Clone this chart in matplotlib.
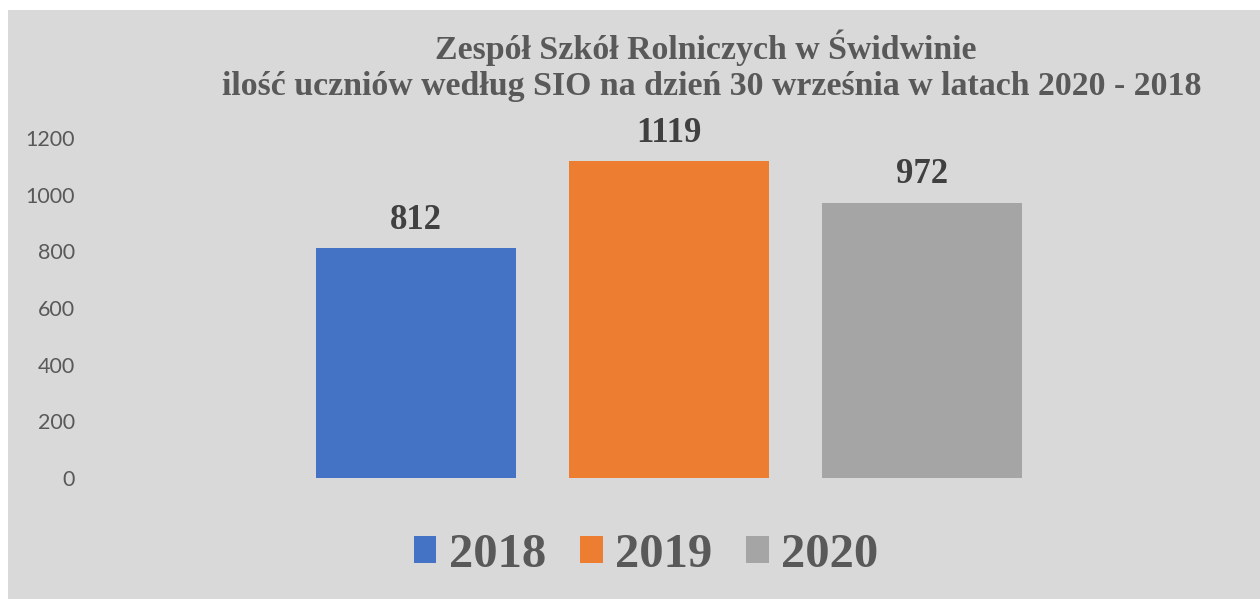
import matplotlib
matplotlib.use("Agg")
import matplotlib.pyplot as plt
from matplotlib.patches import Rectangle
import numpy as np

# dane
years = ['2018', '2019', '2020']
students = [812, 1119, 972]
colors = ['#4472c4', '#ed7d31', '#a5a5a5']
title_lines = ['Zespół Szkół Rolniczych w Świdwinie',
               'ilość uczniów według SIO na dzień 30 września w latach 2020 - 2018']
yticks = [0, 200, 400, 600, 800, 1000, 1200]

SERIF = ['Liberation Serif', 'DejaVu Serif']

W, H = 1260, 599
fig = plt.figure(figsize=(W / 100, H / 100), dpi=100)
fig.patch.set_facecolor('white')
# szare tło wykresu
fig.patches.append(Rectangle((8 / W, 0), 1 - 8 / W, 1 - 10 / H,
                             transform=fig.transFigure, facecolor='#d9d9d9',
                             edgecolor='none', zorder=-1))

ax = fig.add_axes([90 / W, 1 - 478 / H, (1248 - 90) / W, (478 - 138) / H])
ax.set_facecolor('none')

bar_w = 200 / (1248 - 90)
gap = 53 / (1248 - 90)
x = (np.arange(len(years)) - 1) * (bar_w + gap)
bars = ax.bar(x, students, width=bar_w, color=colors, label=years)
ax.set_xlim(-0.5, 0.5)
ax.set_ylim(0, 1200)
ax.set_yticks(yticks)
ax.set_xticks([])
for s in ax.spines.values():
    s.set_visible(False)
ax.tick_params(axis='y', length=0, pad=11, labelsize=15.5, labelcolor='#595959')
for lab in ax.get_yticklabels():
    lab.set_family(['Lato', 'DejaVu Sans'])

for r, v in zip(bars, students):
    ax.annotate(str(v), xy=(r.get_x() + r.get_width() / 2, v),
                xytext=(0, 8), textcoords='offset points',
                ha='center', va='bottom', fontsize=25, fontweight='bold',
                family=SERIF, color='#404040')

fig.text(706 / W, 1 - 48 / H, title_lines[0], ha='center', va='center',
         fontsize=24.4, fontweight='bold', family=SERIF, color='#595959')
fig.text(712 / W, 1 - 86 / H, title_lines[1], ha='center', va='center',
         fontsize=24.4, fontweight='bold', family=SERIF, color='#595959')

leg = fig.legend(handles=bars, labels=years, loc='center', bbox_to_anchor=(646 / W, 1 - 555 / H),
                 ncol=3, frameon=False, handlelength=0.47, handleheight=0.47,
                 handletextpad=0.25, columnspacing=0.7, borderpad=0, borderaxespad=0,
                 prop={'family': SERIF, 'weight': 'bold', 'size': 35})
for t in leg.get_texts():
    t.set_color('#595959')

fig.savefig('out.png', dpi=100)
